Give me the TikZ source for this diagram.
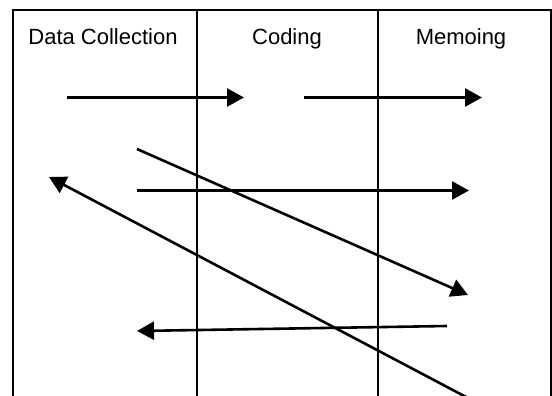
\documentclass[tikz,border=0pt]{standalone}
\usepackage{fontspec}
\setmainfont{Liberation Sans}
\usetikzlibrary{arrows.meta}
\begin{document}
\begin{tikzpicture}[x=1pt,y=-1pt,
  grid/.style={line width=2pt, line cap=rect},
  flow/.style={line width=2.6pt, -{Triangle[length=17pt,width=18pt]}},
  head/.style={font=\fontsize{22}{26}\selectfont, anchor=base, inner sep=0pt}]
\useasboundingbox (0,0) rectangle (552,396);
% table frame
\coordinate (tl) at (13,10);
\coordinate (tr) at (550.5,10);
\coordinate (bl) at (13,397);
\coordinate (br) at (550.5,397);
\coordinate (d1t) at (196.5,10);
\coordinate (d1b) at (196.5,397);
\coordinate (d2t) at (378,10);
\coordinate (d2b) at (378,397);
\draw[grid] (bl) -- (tl) -- (tr) -- (br);
\draw[grid] (d1t) -- (d1b);
\draw[grid] (d2t) -- (d2b);
% headers
\node[head] (h1) at (103,45) {Data Collection};
\node[head] (h2) at (287,45) {Coding};
\node[head] (h3) at (461,45) {Memoing};
% arrow endpoints
\coordinate (a1s) at (67,97.5);
\coordinate (a1e) at (244,97.5);
\coordinate (a2s) at (304,97.5);
\coordinate (a2e) at (482,97.5);
\coordinate (a3s) at (137,190.5);
\coordinate (a3e) at (469,190.5);
\coordinate (a4s) at (137,149);
\coordinate (a4e) at (468,295);
\coordinate (a5s) at (468,398);
\coordinate (a5e) at (49,177);
\coordinate (a6s) at (447,326);
\coordinate (a6e) at (137,331);
% arrows
\draw[flow] (a1s) -- (a1e);
\draw[flow] (a2s) -- (a2e);
\draw[flow] (a3s) -- (a3e);
\draw[flow] (a4s) -- (a4e);
\draw[flow] (a5s) -- (a5e);
\draw[flow] (a6s) -- (a6e);
\end{tikzpicture}
\end{document}
